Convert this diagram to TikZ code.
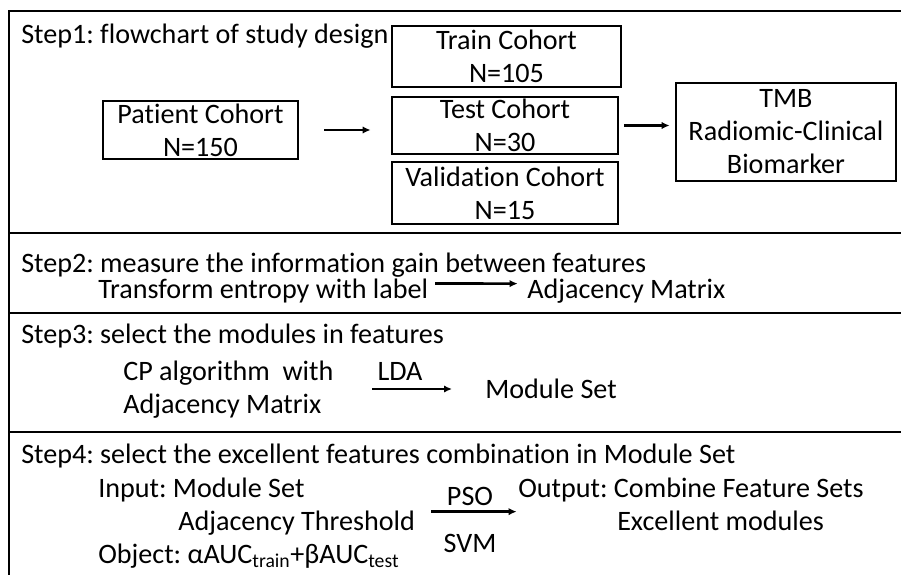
\documentclass[tikz,border=0pt]{standalone}
\usepackage{fontspec}
\setmainfont{Carlito}[Ligatures={NoCommon}]
\usetikzlibrary{arrows.meta,calc}
\frenchspacing

\tikzset{
  frameline/.style={line width=2.2pt},
  cohort/.style={draw, line width=2pt, rectangle, inner sep=0pt, align=center},
  txt/.style={inner sep=0pt, anchor=base west},
  ctxt/.style={inner sep=0pt, anchor=base},
  flow/.style={line width=2pt, -{Latex[length=6pt,width=5.5pt]}},
}

\begin{document}
\begin{tikzpicture}[x=0.75pt, y=-0.75pt,
  every node/.style={font=\fontsize{21.1}{24.75}\selectfont}]
\useasboundingbox (0,0) rectangle (901,575);
\clip (0,0) rectangle (901,575);

% outer frame (open to the right and bottom) and step dividers
\draw[frameline] (9,590) -- (9,11) -- (910,11);
\draw[frameline] (9,233) -- (910,233);
\draw[frameline] (9,313) -- (910,313);
\draw[frameline] (9,432) -- (910,432);

% ---- Step 1 ----
\node[txt] (s1) at (21,43) {Step1: flowchart of study design};
\node[cohort, minimum width=146.25pt, minimum height=43.5pt] (patient) at (200.5,130)
  {Patient Cohort\\N=150};
\node[cohort, minimum width=171.75pt, minimum height=45.75pt] (train) at (506.5,56.5)
  {Train Cohort\\N=105};
\node[cohort, minimum width=169.5pt, minimum height=42.75pt] (test) at (505,125.5)
  {Test Cohort\\N=30};
\node[cohort, minimum width=169.5pt, minimum height=46.5pt] (valid) at (505,193)
  {Validation Cohort\\N=15};
\node[cohort, minimum width=165pt, minimum height=73.5pt] (tmb) at (786,132)
  {TMB\\Radiomic-Clinical\\Biomarker};
\draw[flow, shorten <=18.5pt, shorten >=15pt] (patient.east) -- (patient.east -| test.west);
\draw[flow, shorten <=3.75pt, shorten >=3.75pt] (test.east) -- (test.east -| tmb.west);

% ---- Step 2 ----
\node[txt] (s2) at (21,272) {Step2: measure the information gain between features};
\node[txt] (trans) at (98,298) {Transform entropy with label};
\node[txt] (adj) at (527,298) {Adjacency Matrix};
\draw[flow, shorten <=5pt, shorten >=7pt] ($(trans.east)+(0,-7)$) -- ($(adj.west)+(0,-7)$);

% ---- Step 3 ----
\node[txt] (s3) at (21,343) {Step3: select the modules in features};
\node[txt] (cp1) at (123,380) {CP algorithm\ \ with};
\node[txt] (cp2) at (123,413) {Adjacency Matrix};
\node[txt] (modset) at (485,398) {Module Set};
\coordinate (lda-a) at (372,389);
\coordinate (lda-b) at (452,389);
\draw[flow] (lda-a) -- (lda-b);
\node[ctxt] (lda) at (400,380) {LDA};

% ---- Step 4 ----
\node[txt] (s4) at (21,463) {Step4: select the excellent features combination in Module Set};
\node[txt] (inp) at (98,497) {Input: Module Set};
\node[txt] (thr) at (178,530) {Adjacency Threshold};
\node[txt] (obj) at (98,563) {Object: αAUC\textsubscript{train}+βAUC\textsubscript{test}};
\node[txt] (outp) at (518,497) {Output: Combine Feature Sets};
\node[txt] (exc) at (617,530) {Excellent modules};
\draw[flow, shorten <=12pt, shorten >=1pt] ($(thr.east)+(0,-11)$) -- ($(thr.east -| outp.west)+(0,-11)$);
\node[ctxt] (pso) at (470,505) {PSO};
\node[ctxt] (svm) at (470,552) {SVM};
\end{tikzpicture}
\end{document}
